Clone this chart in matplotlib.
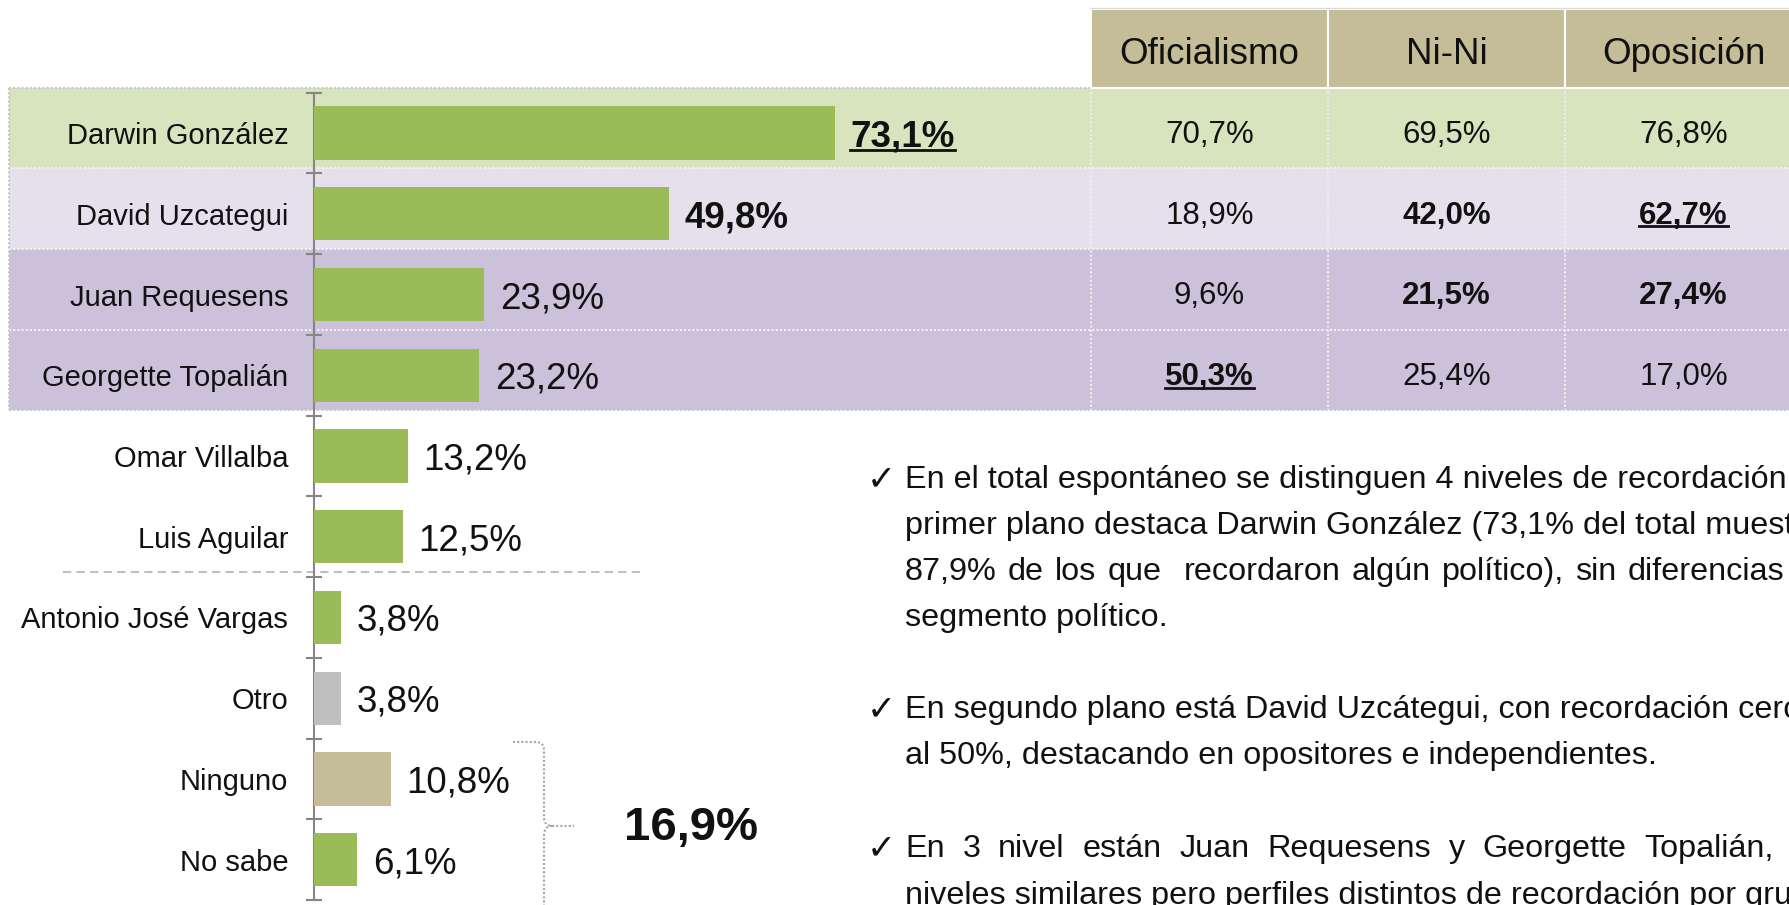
import matplotlib
matplotlib.use("Agg")
import matplotlib.pyplot as plt
from matplotlib.patches import Rectangle, PathPatch
from matplotlib.path import Path
from matplotlib.lines import Line2D
import matplotlib.transforms as mtransforms

plt.rcParams['font.family'] = ['Liberation Sans', 'DejaVu Sans']

# ---------------- data ----------------
categories = ["Darwin González", "David Uzcategui", "Juan Requesens",
              "Georgette Topalián", "Omar Villalba", "Luis Aguilar",
              "Antonio José Vargas", "Otro", "Ninguno", "No sabe"]
values = [73.1, 49.8, 23.9, 23.2, 13.2, 12.5, 3.8, 3.8, 10.8, 6.1]
value_labels = ["73,1%", "49,8%", "23,9%", "23,2%", "13,2%", "12,5%",
                "3,8%", "3,8%", "10,8%", "6,1%"]
value_styles = ["bold_underline", "bold", "normal", "normal", "normal",
                "normal", "normal", "normal", "normal", "normal"]
bar_colors = ["#9BBB59"] * 7 + ["#BFBFBF", "#C4BD97", "#9BBB59"]

segments = ["Oficialismo", "Ni-Ni", "Oposición"]
oficialismo = ["70,7%", "18,9%", "9,6%", "50,3%"]
nini = ["69,5%", "42,0%", "21,5%", "25,4%"]
oposicion = ["76,8%", "62,7%", "27,4%", "17,0%"]
oficialismo_styles = ["normal", "normal", "normal", "bold_underline"]
nini_styles = ["normal", "bold", "bold", "normal"]
oposicion_styles = ["normal", "bold_underline", "bold", "normal"]

group_total_label = "16,9%"

paragraphs = [
    ["En el total espontáneo se distinguen 4 niveles de recordación, en",
     "primer plano destaca Darwin González (73,1% del total muestral y",
     "87,9% de los que  recordaron algún político), sin diferencias por",
     "segmento político."],
    ["En segundo plano está David Uzcátegui, con recordación cercana",
     "al 50%, destacando en opositores e independientes."],
    ["En 3 nivel están Juan Requesens y Georgette Topalián, con",
     "niveles similares pero perfiles distintos de recordación por grupo"],
]

# ---------------- layout ----------------
W, H = 1789, 905
TXT = "#111111"
fig = plt.figure(figsize=(W / 100, H / 100), dpi=100)
bg = fig.add_axes([0, 0, 1, 1])
bg.set_xlim(0, W)
bg.set_ylim(H, 0)
bg.axis("off")

# bar axes
ax_top, ax_bot = 92.7, 900.0
ax = fig.add_axes([314 / W, (H - ax_bot) / H, 713 / W, (ax_bot - ax_top) / H])
ax.patch.set_visible(False)

# row bands behind the top four rows
row_edges = [88, 168, 249, 330, 410]
row_colors = ["#D7E4BD", "#E5E0EC", "#CCC1DA", "#CCC1DA"]
for i, c in enumerate(row_colors):
    bg.add_patch(Rectangle((9, row_edges[i]), W, row_edges[i + 1] - row_edges[i],
                           fc=c, ec="none", zorder=0))
for j, y in enumerate(row_edges):
    col = "#C8C8C8" if j in (0, len(row_edges) - 1) else "#F2F2F2"
    bg.plot([9, W], [y, y], ls=(0, (1, 1)), color=col, lw=1.5, zorder=1)
bg.plot([9, 9], [row_edges[0], row_edges[-1]], ls=(0, (1, 1)), color="#C8C8C8", lw=1.5, zorder=1)

# table header
col_left = [1091, 1328, 1565]
col_w = 237
for xl in col_left:
    bg.add_patch(Rectangle((xl, 9), col_w, 79, fc="#C4BD97", ec="white", lw=1.5, zorder=1))
    bg.plot([xl, xl], [row_edges[0], row_edges[-1]], ls=(0, (1, 1)), color="#EEEEEE", lw=1.5, zorder=1)
bg.plot([col_left[0], W], [8, 8], color="#DADADA", lw=1, zorder=1)

underlined = []
for k, name in enumerate(segments):
    bg.text(col_left[k] + col_w / 2, 50, name, ha="center", va="center_baseline",
            fontsize=26.5, color=TXT, zorder=3)

blend = mtransforms.blended_transform_factory(bg.transData, ax.transData)
for k, (col, sty) in enumerate([(oficialismo, oficialismo_styles),
                                 (nini, nini_styles),
                                 (oposicion, oposicion_styles)]):
    for i, (lab, st) in enumerate(zip(col, sty)):
        t = bg.text(col_left[k] + col_w / 2, i - 0.02, lab, transform=blend, ha="center",
                    va="center_baseline", fontsize=22.5, color=TXT,
                    fontweight="bold" if "bold" in st else "normal", zorder=3)
        if "underline" in st:
            underlined.append(t)

# bars
y = list(range(len(categories)))
ax.barh(y, values, height=0.66, color=bar_colors, zorder=3)
ax.set_ylim(len(categories) - 0.5, -0.5)
ax.set_xlim(0, 100)
for s in ["top", "right", "bottom"]:
    ax.spines[s].set_visible(False)
ax.spines["left"].set_color("#868686")
ax.spines["left"].set_linewidth(1.5)
ax.set_xticks([])
ax.set_yticks(y)
ax.set_yticklabels(categories, fontsize=21, color=TXT)
ax.tick_params(axis="y", which="major", length=0, pad=18.5)
ax.set_yticks([i - 0.5 for i in range(len(categories) + 1)], minor=True)
ax.tick_params(axis="y", which="minor", length=12, width=1.5, direction="inout",
               color="#868686")

for i, (v, lab, st) in enumerate(zip(values, value_labels, value_styles)):
    t = ax.annotate(lab, xy=(v, i), xytext=(11, 0), textcoords="offset points",
                    ha="left", va="center_baseline", fontsize=26.5, color=TXT,
                    fontweight="bold" if "bold" in st else "normal", zorder=4,
                    annotation_clip=False)
    if "underline" in st:
        underlined.append(t)

# dashed separator between groups
bg.plot([63, 644], [572, 572], color="#BFBFBF", lw=1.5, ls=(0, (4, 2.5)), zorder=2)

# bracket for Ninguno + No sabe
verts = [(513, 742), (536, 742), (544, 742), (544, 750), (544, 817),
         (544, 826), (552, 826), (574, 826),
         (552, 826), (544, 826), (544, 835), (544, 920)]
codes = [Path.MOVETO, Path.LINETO, Path.CURVE3, Path.CURVE3, Path.LINETO,
         Path.CURVE3, Path.CURVE3, Path.LINETO,
         Path.MOVETO, Path.CURVE3, Path.CURVE3, Path.LINETO]
bg.add_patch(PathPatch(Path(verts, codes), fc="none", ec="#A6A6A6", lw=1.5,
                       ls=(0, (1, 1)), zorder=2))
bg.text(691, 823, group_total_label, ha="center", va="center_baseline",
        fontsize=34, fontweight="bold", color=TXT, zorder=3)

# bullet text
line_y = [[476, 522, 568, 614], [706, 752], [845, 892]]
x_text, x_check = 905, 867
BFS = 23.3
renderer = fig.canvas.get_renderer()


def justified(words, weights, x0, x1, yy):
    ws = []
    tmp = []
    for w_ in words:
        t = bg.text(0, yy, w_, fontsize=BFS, color=TXT, va="center_baseline")
        ws.append(t.get_window_extent(renderer).width)
        tmp.append(t)
    gap = (x1 - x0 - sum(ws)) / sum(weights)
    x = x0
    for k, t in enumerate(tmp):
        t.set_x(x)
        x += ws[k] + (gap * weights[k] if k < len(weights) else 0)


for p, lines in enumerate(paragraphs):
    for li, line in enumerate(lines):
        yy = line_y[p][li]
        if li == 0:
            bg.text(x_check, yy, "✓", family=["DejaVu Sans"], fontsize=25,
                    color=TXT, va="center_baseline", ha="left")
        if p == 0 and li == 2:
            words = ["87,9%", "de", "los", "que", "recordaron", "algún",
                     "político),", "sin", "diferencias"]
            justified(words, [1, 1, 1, 2, 1, 1, 1, 1], x_text, 1784, yy)
        elif p == 2 and li == 0:
            words = ["En", "3", "nivel", "están", "Juan", "Requesens", "y",
                     "Georgette", "Topalián,"]
            justified(words, [1] * 8, x_text, 1774, yy)
        else:
            bg.text(x_text, yy, line, fontsize=BFS, color=TXT,
                    va="center_baseline", ha="left")

# underlines
fig.canvas.draw()
for t in underlined:
    bb = t.get_window_extent(renderer)
    _, _, d = renderer.get_text_width_height_descent("lp", t.get_fontproperties(), ismath=False)
    em = t.get_fontsize() * fig.dpi / 72
    yl = bb.y0 + d - 0.09 * em
    fig.add_artist(Line2D([bb.x0, bb.x1], [yl, yl], color=TXT, lw=2.0,
                          transform=mtransforms.IdentityTransform()))

fig.savefig("out.png", dpi=100)
